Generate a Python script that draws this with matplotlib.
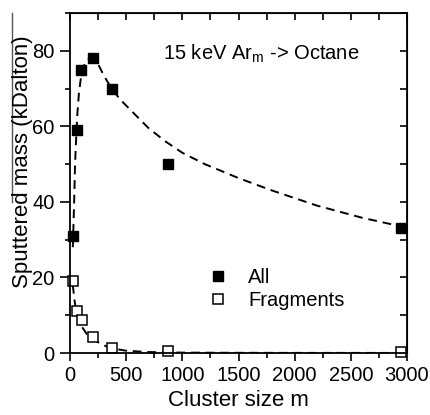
import matplotlib
matplotlib.use("Agg")
import matplotlib.pyplot as plt
from matplotlib.lines import Line2D
from matplotlib.ticker import MultipleLocator

plt.rcParams['font.family'] = ['Liberation Sans', 'DejaVu Sans']

# measured points
m_all = [30, 60, 100, 205, 370, 870, 2950]
mass_all = [31, 59, 75, 78, 70, 50, 33]
m_frag = [30, 60, 105, 205, 370, 870, 2950]
mass_frag = [19, 11, 8.7, 4.2, 1.3, 0.4, 0.3]

# fit curves
fit_m_all = [25, 30, 36, 45, 55, 65, 80, 100, 130, 170, 210, 250, 300, 370, 450,
             550, 700, 850, 1000, 1200, 1500, 1800, 2200, 2600, 2950]
fit_all = [28, 33, 39, 50, 57, 63, 69, 73.5, 76.5, 78, 78, 76.5, 73.5, 70, 67,
           64, 59.5, 56, 53, 50, 46.3, 43, 39, 35.8, 33.5]
fit_m_frag = [25, 40, 55, 80, 100, 150, 200, 300, 400, 500, 700, 1000, 1500, 2000, 3000]
fit_frag = [18, 14, 11, 8.5, 7.2, 5.0, 3.7, 2.0, 1.1, 0.6, 0.25, 0.1, 0.05, 0.03, 0.02]

fig = plt.figure(figsize=(4.3, 4.15), dpi=100)
ax = fig.add_axes([70/430, 1-353/415, 337/430, 340/415])

ax.plot(fit_m_all, fit_all, color='black', lw=1.4, dashes=(4.5, 3))
ax.plot(fit_m_frag, fit_frag, color='black', lw=1.4, dashes=(4.5, 3))
ax.plot(m_all, mass_all, 's', color='black', ms=7.5, clip_on=False, label='All')
ax.plot(m_frag, mass_frag, 's', mfc='white', mec='black', mew=1.1, ms=7.5,
        clip_on=False, label='Fragments')

ax.set_xlim(0, 3000)
ax.set_ylim(0, 90)
ax.xaxis.set_major_locator(MultipleLocator(500))
ax.xaxis.set_minor_locator(MultipleLocator(250))
ax.yaxis.set_major_locator(MultipleLocator(20))
ax.yaxis.set_minor_locator(MultipleLocator(10))
ax.tick_params(which='major', direction='out', length=6, width=1.2, labelsize=14.5)
ax.tick_params(axis='x', which='major', pad=3)
ax.tick_params(axis='y', which='major', length=7, pad=4)
ax.tick_params(which='minor', direction='out', length=3.5, width=1.2)
for s in ax.spines.values():
    s.set_linewidth(1.3)

# inward ticks on top and right
top = ax.secondary_xaxis('top')
top.xaxis.set_major_locator(MultipleLocator(250))
top.tick_params(direction='in', length=5, width=1.2, labeltop=False)
right = ax.secondary_yaxis('right')
right.yaxis.set_major_locator(MultipleLocator(10))
right.tick_params(direction='in', length=5, width=1.2, labelright=False)

ax.text((163-70)/337, (353-60)/340, '15 keV Ar$_\\mathregular{m}$ -> Octane',
        fontsize=14.5, transform=ax.transAxes, ha='left', va='baseline')

ax.legend(loc='center left', bbox_to_anchor=((198-70)/337, (353-289)/340),
          frameon=False, fontsize=14.5, handlelength=1.0, handletextpad=1.0,
          labelspacing=0.2, borderpad=0)

fig.text(238/430, 1-400/415, 'Cluster size m', fontsize=16, ha='center', va='center')
fig.text(23/430, 1-162/415, 'Sputtered mass (kDalton)', fontsize=16,
         rotation=90, ha='center', va='center')
fig.add_artist(Line2D([12/430, 12/430], [1-13/415, 1-202/415],
                      transform=fig.transFigure, color='#555555', lw=1))

fig.savefig('out.png', dpi=100)
